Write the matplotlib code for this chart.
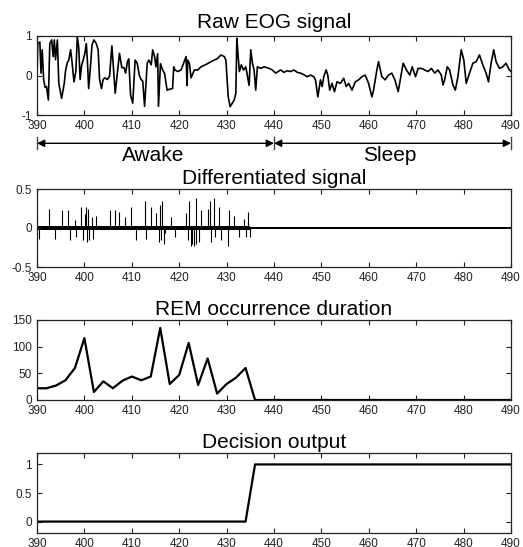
#!/usr/bin/env python3
"""EOG sleep-onset figure: raw signal, derivative, REM duration, decision."""

import matplotlib

matplotlib.use("Agg")
import matplotlib.pyplot as plt


# Raw EOG trace (time in s, normalised amplitude).
RAW_T = [
    390.0, 390.15, 390.6, 390.85, 391.1, 391.4, 391.7, 392.0, 392.4, 392.7,
    393.1, 393.4, 393.65, 393.9, 394.3, 394.6, 395.2, 395.75, 396.0, 396.4,
    396.7, 397.1, 397.4, 397.8, 398.2, 398.5, 398.8, 399.1, 399.4, 399.75,
    400.1, 400.4, 400.65, 400.9, 401.35, 401.6, 402.0, 402.5, 402.9, 403.2,
    403.6, 403.95, 404.3, 404.85, 405.3, 405.8, 406.25, 406.5, 406.95, 407.4,
    407.9, 408.35, 408.7, 409.05, 409.35, 409.75, 410.2, 410.7, 411.15, 411.6,
    411.95, 412.3, 412.7, 413.25, 413.6, 414.1, 414.4, 414.8, 415.1, 415.45,
    415.63, 416.05, 416.5, 416.9, 417.45, 417.9, 418.6, 418.85, 419.1, 419.7,
    420.4, 421.45, 421.65, 421.8, 422.15, 422.5, 423.2, 423.9, 424.6, 425.3,
    426.0, 426.7, 427.4, 428.1, 428.8, 429.5, 429.85, 430.34, 430.75, 431.6,
    431.95, 432.16, 432.44, 432.7, 433.1, 433.55, 434.05, 434.75, 435.1,
    435.45, 435.8, 436.15, 436.5, 437.2, 437.9, 439.0, 439.65, 440.35,
    441.4, 442.1, 442.8, 443.5, 444.2, 444.9, 445.6, 446.3, 447.0, 447.7,
    448.4, 448.75, 449.25, 449.8, 450.15, 450.5, 451.0, 451.35, 451.75,
    452.25, 452.75, 453.3, 454.0, 454.7, 455.25, 455.75, 456.45, 457.15,
    457.85, 458.55, 459.25, 459.95, 460.65, 461.0, 461.7, 462.05, 462.75,
    463.45, 464.15, 464.85, 465.5, 466.2, 466.9, 467.25, 467.95, 468.65,
    469.15, 469.85, 470.4, 471.1, 471.8, 472.5, 473.2, 473.9, 474.6, 475.3,
    475.65, 476.0, 476.55, 477.05, 477.75, 478.25, 478.8, 479.5, 480.05,
    480.55, 481.25, 481.95, 482.65, 483.35, 484.05, 484.75, 485.25, 485.8,
    486.35, 486.85, 487.55, 488.25, 488.95, 489.65, 490.0,
]
RAW_V = [
    -0.1, 0.8, 0.85, 0.06, 0.65, -0.1, -0.3, -0.28, -0.62, 0.81,
    0.9, 0.48, 0.9, 0.4, 0.9, -0.2, -0.58, -0.2, 0.1, 0.33,
    0.39, 0.65, 0.33, -0.16, 0.1, 0.98, 0.72, -0.1, 0.25, 0.39,
    0.56, 0.81, 0.33, -0.33, 0.33, 0.77, 0.9, 0.81, 0.65, -0.1,
    -0.33, -0.1, -0.06, -0.1, -0.02, 0.75, -0.02, -0.45, 0.05, 0.56,
    0.2, 0.2, 0.06, 0.33, 0.42, -0.5, -0.7, 0.39, 0.31, 0.0,
    -0.1, -0.14, -0.78, 0.31, 0.39, 0.27, 0.65, 0.48, 0.22, 0.55,
    -0.78, 0.3, 0.14, 0.06, -0.37, -0.35, -0.33, 0.22, 0.14, 0.1,
    0.14, 0.48, -0.25, 0.39, 0.31, -0.06, 0.14, 0.14, 0.22, 0.26,
    0.3, 0.35, 0.39, 0.43, 0.52, 0.48, 0.39, -0.54, -0.79, -0.62,
    -0.45, 0.94, 0.48, 0.1, 0.27, 0.14, 0.22, -0.25, 0.65,
    0.31, 0.14, -0.37, 0.22, 0.18, 0.22, 0.18, 0.14, 0.06,
    0.14, 0.08, 0.12, 0.1, 0.14, 0.08, 0.06, 0.02, -0.03, 0.01,
    -0.03, -0.11, -0.54, -0.11, -0.28, -0.03, 0.14, 0.01, -0.37,
    -0.2, -0.41, -0.16, -0.2, -0.07, -0.28, -0.2, -0.37, -0.16,
    -0.11, -0.03, 0.01, -0.2, -0.54, -0.37, 0.14, 0.35, -0.03,
    -0.11, 0.01, 0.06, -0.11, -0.41, 0.06, 0.31, 0.14, 0.01,
    0.22, -0.03, 0.18, 0.18, 0.14, 0.1, 0.18, 0.06, 0.14, 0.01,
    -0.24, -0.11, 0.22, 0.14, -0.24, -0.37, -0.03, 0.65, 0.39,
    -0.2, 0.06, 0.31, 0.35, 0.52, 0.27, 0.06, -0.16, 0.31,
    0.65, 0.35, 0.18, 0.22, 0.31, 0.14, 0.1,
]

# Differentiated signal: saccade spikes and the width of the noise floor.
SPIKE_T = [
    390.0, 390.5, 392.6, 393.8, 395.2, 396.6, 396.9, 398.0, 398.3, 399.2,
    399.6, 400.1, 400.4, 400.55, 400.8, 401.0, 401.5, 401.8, 402.4, 405.3,
    406.4, 407.4, 408.5, 409.9, 410.8, 412.7, 413.0, 414.1, 415.2, 415.7,
    416.0, 416.2, 416.4, 416.7, 416.9, 418.3, 419.2, 421.4, 421.8, 422.1,
    422.5, 422.8, 423.2, 423.5, 423.6, 424.1, 424.6, 426.0, 426.4, 426.7,
    427.4, 427.6, 428.4, 428.8, 430.2, 430.6, 431.6, 432.6, 433.7, 434.0,
    434.6, 434.9,
]
SPIKE_V = [
    0.14, -0.14, 0.25, -0.14, 0.23, 0.23, -0.16, 0.1, -0.12, 0.27,
    -0.16, 0.18, 0.27, -0.18, 0.25, -0.16, 0.14, -0.14, 0.16, 0.23,
    0.23, 0.2, 0.14, 0.27, -0.16, 0.34, -0.14, 0.27, 0.19, -0.18,
    0.3, -0.16, 0.34, -0.2, -0.07, 0.14, -0.12, 0.19, -0.16, 0.34,
    -0.23, -0.2, -0.23, 0.38, -0.2, -0.18, 0.23, 0.25, 0.34, -0.18,
    0.38, -0.12, 0.27, -0.16, -0.23, 0.23, 0.16, -0.12, 0.12, -0.12,
    0.2, -0.12,
]
NOISE_T = [390.0, 435.0, 435.0, 490.0]
NOISE_AMP = [0.028, 0.028, 0.016, 0.016]

# REM occurrence duration and the sleep decision, one value every 2 s.
EPOCH_T = list(range(390, 491, 2))
REM_DURATION = [
    22, 22, 27, 37, 60, 116, 15, 35, 22, 36, 44, 37, 44, 135, 30, 47, 107,
    28, 78, 12, 30, 42, 60, 0, 0, 0, 0, 0, 0, 0, 0, 0, 0, 0, 0, 0, 0, 0, 0,
    0, 0, 0, 0, 0, 0, 0, 0, 0, 0, 0, 0,
]
DECISION = [
    0, 0, 0, 0, 0, 0, 0, 0, 0, 0, 0, 0, 0, 0, 0, 0, 0, 0, 0, 0, 0, 0, 0, 1,
    1, 1, 1, 1, 1, 1, 1, 1, 1, 1, 1, 1, 1, 1, 1, 1, 1, 1, 1, 1, 1, 1, 1, 1,
    1, 1, 1,
]

STATE_EDGES = [390, 440, 490]
STATE_LABELS = ["Awake", "Sleep"]
XTICKS = list(range(390, 491, 10))

# Axes rectangles in pixels (left, top, right, bottom) of a 523x547 canvas.
W, H = 523, 547
PANELS = (
    (37, 36, 511, 115),
    (37, 189, 511, 267),
    (37, 320, 511, 400),
    (37, 453, 511, 533),
)


def style_axis(ax, ylim, yticks, ylabels, title, pad=3.5):
  ax.set_xlim(390, 490)
  ax.set_ylim(*ylim)
  ax.set_xticks(XTICKS)
  ax.set_yticks(yticks)
  ax.set_yticklabels(ylabels)
  ax.tick_params(direction="in", top=True, right=True, length=3.5,
                 width=0.8, labelsize=8.5, pad=3.5, colors="#222222")
  for spine in ax.spines.values():
    spine.set_linewidth(0.9)
    spine.set_color("#222222")
  ax.set_title(title, fontsize=15, pad=pad)


def main():
  plt.rcParams.update({
      "font.family": ["Liberation Sans", "DejaVu Sans"],
      "axes.unicode_minus": False,
  })
  fig = plt.figure(figsize=(W / 100, H / 100), dpi=100)
  axes = [
      fig.add_axes([l / W, 1 - b / H, (r - l) / W, (b - t) / H])
      for l, t, r, b in PANELS
  ]

  ax = axes[0]
  ax.plot(RAW_T, RAW_V, color="black", linewidth=1.2)
  style_axis(ax, (-1, 1), [-1, 0, 1], ["-1", "0", "1"], "Raw EOG signal", pad=6)
  trans = ax.get_xaxis_transform()
  for start, end, label in zip(STATE_EDGES[:-1], STATE_EDGES[1:], STATE_LABELS):
    ax.annotate(
        "", xy=(start, -0.358), xytext=(end, -0.358), xycoords=trans,
        textcoords=trans, annotation_clip=False,
        arrowprops=dict(arrowstyle="<|-|>", color="black", lw=1.0,
                        mutation_scale=11, shrinkA=0, shrinkB=0))
    ax.text((start + end) / 2 - 0.5, -0.58, label, transform=trans,
            ha="center", va="baseline", fontsize=15)
  for edge in STATE_EDGES:
    ax.plot([edge, edge], [-0.28, -0.43], transform=trans, color="#444444",
            linewidth=1.0, clip_on=False)

  ax = axes[1]
  ax.fill_between(NOISE_T, [-a for a in NOISE_AMP], NOISE_AMP,
                  color="black", linewidth=0)
  ax.vlines(SPIKE_T, 0, SPIKE_V, color="black", linewidth=0.8)
  style_axis(ax, (-0.5, 0.5), [-0.5, 0, 0.5], ["-0.5", "0", "0.5"],
             "Differentiated signal")

  ax = axes[2]
  ax.plot(EPOCH_T, REM_DURATION, color="black", linewidth=1.6)
  style_axis(ax, (0, 150), [0, 50, 100, 150], ["0", "50", "100", "150"],
             "REM occurrence duration")

  ax = axes[3]
  ax.plot(EPOCH_T, DECISION, color="black", linewidth=1.6)
  style_axis(ax, (-0.2, 1.2), [0, 0.5, 1], ["0", "0.5", "1"], "Decision output")

  fig.savefig("out.png", dpi=100)
  plt.close(fig)


if __name__ == "__main__":
  main()
